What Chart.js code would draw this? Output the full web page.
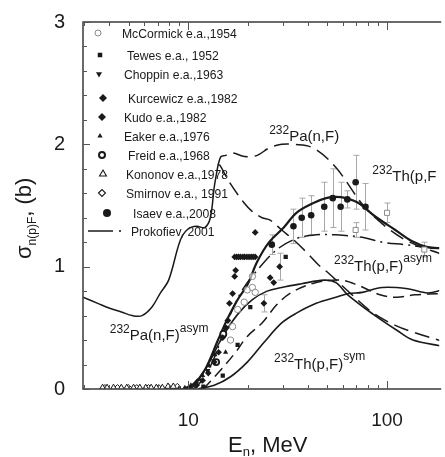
<!DOCTYPE html>
<html><head><meta charset="utf-8">
<script src="https://cdn.jsdelivr.net/npm/chart.js@4.4.0/dist/chart.umd.min.js"></script>
<style>html,body{margin:0;padding:0;background:#fff;overflow:hidden}canvas{display:block}</style>
</head><body>
<canvas id="c" width="445" height="457"></canvas>
<script>
// ---------------- data ----------------
const xTickValues = [3,4,5,6,7,8,9,10,20,30,40,50,60,70,80,90,100];
const xTickLabels = ['10','100'];
const yTickValues = [0,0.2,0.4,0.6,0.8,1,1.2,1.4,1.6,1.8,2,2.2,2.4,2.6,2.8,3];
const yTickLabels = ['0','1','2','3'];

// 232Th(p,F) total (solid)
const thTotE = [9.4,10.6,12.1,14.1,15.8,17.7,19.8,22.2,25.5,30.2,35.0,42.6,49.3,55.3,62.0,71.8,87.2,110,133,160,190];
const thTotY = [0.0,0.04,0.155,0.40,0.58,0.73,0.85,1.04,1.20,1.32,1.44,1.52,1.56,1.57,1.56,1.52,1.41,1.30,1.21,1.16,1.15];
// 232Th(p,F) asym (solid)
const thAsymE = [9.6,10.6,12.56,14.9,17.7,21.0,24.9,29.5,37.1,48.2,55.3,63.4,85.3,112,135,190];
const thAsymY = [0.0,0.02,0.20,0.43,0.61,0.73,0.80,0.83,0.86,0.89,0.87,0.77,0.61,0.48,0.40,0.35];
// 232Th(p,F) sym (solid)
const thSymE = [11.2,13.5,16.3,19.8,24.0,29.5,35.0,44.0,55.3,64.1,75.1,94.5,127,160,190];
const thSymY = [0.0,0.03,0.10,0.22,0.38,0.54,0.62,0.70,0.75,0.78,0.79,0.83,0.82,0.785,0.81];
// 232Pa(n,F): common low-energy part (solid)
const paComE = [2.95,3.5,4.02,4.6,5.22,5.85,6.56,7.2,7.96,9.13,10.0,11.0,12.1,12.9,13.5,14.1];
const paComY = [0.75,0.70,0.66,0.63,0.60,0.60,0.67,0.78,0.89,1.22,1.31,1.33,1.32,1.40,1.65,1.83];
// 232Pa(n,F) total (long dash)
const paTotE = [14.1,14.6,15.4,16.7,19.2,22.2,25.5,29.5,33.8,42.5,55.3,76,98,130,190];
const paTotY = [1.83,1.90,1.91,1.93,1.90,1.91,1.97,2.0,2.0,1.97,1.81,1.50,1.33,1.20,1.10];
// 232Pa(n,F) asym (long dash)
const paAsymE = [14.1,14.4,16.1,19.1,21.0,23.5,25.8,29.5,33.8,39.2,45.5,50.5,65.6,85.3,110,138,190];
const paAsymY = [1.83,1.83,1.69,1.52,1.45,1.40,1.38,1.30,1.22,1.12,1.01,0.95,0.78,0.62,0.52,0.46,0.39];
// 232Pa(n,F) sym (dash)
const paSymE = [11.9,14.1,17.1,19.8,23.5,27.9,33.1,44.0,58.5,71.0,92.2,112,138,190];
const paSymY = [0.0,0.13,0.29,0.43,0.54,0.69,0.79,0.87,0.89,0.85,0.77,0.75,0.77,0.78];
// Prokofiev, 2001 (dash-dot)
const prokE = [10.5,11.2,13.3,15.8,18.7,22.2,27.9,35.0,44.0,55.3,75.0,94.5,123,154,190];
const prokY = [0.0,0.03,0.23,0.56,0.81,0.97,1.14,1.23,1.26,1.26,1.24,1.20,1.18,1.16,1.15];

// experimental points
const mccE = [16.3,16.7,17.7,19.1,19.8,21.0,21.0,21.7];
const mccY = [0.40,0.51,0.65,0.71,0.81,0.83,0.92,0.79];
const grayE = [69.5,100,154];
const grayY = [1.30,1.44,1.14];
const grayErr = [0.06,0.08,0.06];
const tewesE = [11.9,14.9,17.7,20.5,30.9];
const tewesY = [0.02,0.11,0.36,0.67,1.08];
const choppinE = [10.2,10.9,11.6,12.5,13.4];
const choppinY = [0.01,0.03,0.07,0.15,0.23];
const kurcE = [15.8,16.1,16.7,17.1,17.3,21.7,25.8,26.9,24.0,28.8];
const kurcY = [0.56,0.70,0.78,0.92,0.97,1.28,0.91,0.87,0.70,1.00];
const kurcErr = [0,0,0,0,0,0,0,0,0.07,0.11];
const kudoE = [11.0,11.8,12.6,13.5,14.2,14.9,15.5,17.1,17.5,17.9,18.3,18.8,19.2,19.7,20.2,20.7,21.2,21.7];
const kudoY = [0.03,0.07,0.13,0.22,0.30,0.42,0.50,1.08,1.08,1.08,1.08,1.08,1.08,1.08,1.08,1.08,1.08,1.08];
const eakerE = [9.0,9.6,10.3,11.0,11.8,12.7,13.6,15.4];
const eakerY = [0.01,0.01,0.03,0.06,0.11,0.19,0.28,0.30];
const freidE = [13.8,15.0];
const freidY = [0.22,0.45];
const kononovE = [3.7,3.9,4.2,4.6,4.9,5.3,5.7,6.1,6.5,6.9,7.4,7.9,8.4];
const kononovY = [0.01,0.01,0.01,0.01,0.01,0.01,0.01,0.01,0.01,0.01,0.01,0.02,0.02];
const smirnovE = [3.8,4.4,5.0,5.5,6.3,7.1,8.0,8.8];
const smirnovY = [0.01,0.01,0.01,0.01,0.01,0.01,0.01,0.02];
const isaevE = [26.3,33.8,37.2,41.5,48.3,53.3,58.4,63.1,69.5,77.9];
const isaevY = [1.18,1.33,1.40,1.42,1.49,1.56,1.49,1.55,1.69,1.49];
const isaevErr = [0.08,0.14,0.16,0.16,0.20,0.24,0.20,0.07,0.22,0.19];

const legendLabels = ['McCormick e.a.,1954','Tewes e.a., 1952','Choppin e.a.,1963','Kurcewicz e.a.,1982','Kudo e.a.,1982','Eaker e.a.,1976','Freid e.a.,1968','Kononov e.a.,1978','Smirnov e.a., 1991','Isaev e.a.,2008','Prokofiev, 2001'];

// ---------------- styling / layout ----------------
const FONT = '"Liberation Sans", Arial, sans-serif';
const INK = '#1a1a1a';
const GRAY = '#8a8a8a';
const xMin = 2.95, xMax = 183;

const pts = (E, Y) => E.map((x, i) => ({x, y: Y[i]}));
function lineDs(E, Y, w, dash) {
  return {data: pts(E, Y), showLine: true, pointRadius: 0, borderColor: INK, borderWidth: w,
          borderDash: dash || [], tension: 0.35, fill: false, order: 10};
}
function markDs(E, Y, style, r, fillC, strokeC, bw, rot) {
  return {data: pts(E, Y), showLine: false, pointStyle: style, pointRadius: r,
          backgroundColor: fillC, borderColor: strokeC, borderWidth: bw, rotation: rot || 0, order: 1};
}

const markerStyles = [
  {pointStyle:'circle', radius:3, fill:'#fff', stroke:GRAY, bw:1},       // McCormick
  {pointStyle:'rect', radius:3.2, fill:INK, stroke:INK, bw:0},           // Tewes
  {pointStyle:'triangle', radius:3.5, fill:INK, stroke:INK, bw:0, rotation:180}, // Choppin
  {pointStyle:'rectRot', radius:4, fill:INK, stroke:INK, bw:0},          // Kurcewicz
  {pointStyle:'rectRot', radius:4, fill:INK, stroke:INK, bw:0},          // Kudo
  {pointStyle:'triangle', radius:3, fill:INK, stroke:INK, bw:0},         // Eaker
  {pointStyle:'circle', radius:3, fill:'#fff', stroke:INK, bw:2},        // Freid
  {pointStyle:'triangle', radius:4, fill:'#fff', stroke:INK, bw:1.1},    // Kononov
  {pointStyle:'rectRot', radius:3.5, fill:'#fff', stroke:INK, bw:1.1},   // Smirnov
  {pointStyle:'circle', radius:4, fill:INK, stroke:INK, bw:0},           // Isaev
  null
];
const legendLayout = [
  {mx:98,my:33,tx:122},{mx:100,my:55,tx:127},{mx:99,my:74,tx:124},{mx:103,my:98,tx:128},
  {mx:102,my:117,tx:124},{mx:100,my:136,tx:124},{mx:102,my:155,tx:128},{mx:103,my:174,tx:126},
  {mx:102,my:193,tx:126},{mx:107,my:213,tx:133},{mx:100,my:231,tx:131}
];

const datasets = [
  markDs(isaevE, isaevY, 'circle', 3.3, INK, INK, 0),
  markDs(kurcE, kurcY, 'rectRot', 3.4, INK, INK, 0),
  markDs(kudoE, kudoY, 'rectRot', 3.3, INK, INK, 0),
  markDs(tewesE, tewesY, 'rect', 3, INK, INK, 0),
  markDs(choppinE, choppinY, 'triangle', 3.3, INK, INK, 0, 180),
  markDs(eakerE, eakerY, 'triangle', 3, INK, INK, 0),
  markDs(freidE, freidY, 'circle', 3, '#fff', INK, 1.8),
  markDs(mccE, mccY, 'circle', 3.2, 'rgba(255,255,255,0.6)', GRAY, 1),
  markDs(grayE, grayY, 'rect', 3.6, '#fff', GRAY, 1),
  markDs(kononovE, kononovY, 'triangle', 3.6, '#fff', INK, 1),
  markDs(smirnovE, smirnovY, 'rectRot', 3.2, '#fff', INK, 1),
  lineDs(thTotE, thTotY, 2.2),
  lineDs(thAsymE, thAsymY, 1.6),
  lineDs(thSymE, thSymY, 1.6),
  lineDs(paComE, paComY, 1.5),
  lineDs(paTotE, paTotY, 1.5, [15, 7]),
  lineDs(paAsymE, paAsymY, 1.5, [15, 7]),
  lineDs(paSymE, paSymY, 1.5, [11, 6]),
  lineDs(prokE, prokY, 1.5, [16, 5, 2, 5])
];

const curveLabels = [
  {E:25.5, y:2.03, parts:[['232',12,-7],['Pa(n,F)',15,0]]},
  {E:84.3, y:1.70, parts:[['232',12,-7],['Th(p,F',15,0]]},
  {E:54.1, y:0.965, parts:[['232',12,-7],['Th(p,F)',15,0],['asym',12,-9]]},
  {E:4.02, y:0.40, parts:[['232',12,-7],['Pa(n,F)',15,0],['asym',12,-8]]},
  {E:27.0, y:0.163, parts:[['232',12,-7],['Th(p,F)',15,0],['sym',12,-9]]}
];

function rich(ctx, x, y, parts) {
  let cx = x;
  for (const [t, size, dy] of parts) {
    ctx.font = size + 'px ' + FONT;
    ctx.fillText(t, cx, y + dy);
    cx += ctx.measureText(t).width;
  }
  return cx;
}

const decor = {
  id: 'decor',
  beforeDatasetsDraw(chart) {
    const ctx = chart.ctx, xs = chart.scales.x, ys = chart.scales.y;
    ctx.save();
    ctx.strokeStyle = '#a8a8a8';
    ctx.lineWidth = 1;
    const bars = (E, Y, Er) => E.forEach((e, i) => {
      if (!Er[i]) return;
      const x = Math.round(xs.getPixelForValue(e)) + 0.5;
      const y1 = ys.getPixelForValue(Y[i] - Er[i]), y2 = ys.getPixelForValue(Y[i] + Er[i]);
      ctx.beginPath();
      ctx.moveTo(x, y1); ctx.lineTo(x, y2);
      ctx.moveTo(x - 3, y1); ctx.lineTo(x + 3, y1);
      ctx.moveTo(x - 3, y2); ctx.lineTo(x + 3, y2);
      ctx.stroke();
    });
    bars(isaevE, isaevY, isaevErr);
    bars(grayE, grayY, grayErr);
    bars(kurcE, kurcY, kurcErr);
    ctx.restore();
  },
  afterDraw(chart) {
    const ctx = chart.ctx, xs = chart.scales.x, ys = chart.scales.y, a = chart.chartArea;
    ctx.save();
    // frame
    ctx.strokeStyle = '#3a3a3a';
    ctx.lineWidth = 1.5;
    ctx.beginPath();
    ctx.moveTo(a.right + 2, a.top); ctx.lineTo(a.left, a.top); ctx.lineTo(a.left, a.bottom); ctx.lineTo(a.right + 2, a.bottom);
    ctx.stroke();
    ctx.lineWidth = 1;
    ctx.strokeStyle = '#555';
    ctx.beginPath();
    yTickValues.forEach(v => {
      const y = Math.round(ys.getPixelForValue(v)) + 0.5;
      const L = Math.abs(v - Math.round(v)) < 1e-6 ? 7 : 4;
      ctx.moveTo(a.left, y); ctx.lineTo(a.left + L, y);
    });
    xTickValues.forEach(v => {
      const x = Math.round(xs.getPixelForValue(v)) + 0.5;
      const L = (v === 10 || v === 100) ? 8 : 4;
      ctx.moveTo(x, a.bottom); ctx.lineTo(x, a.bottom - L);
      ctx.moveTo(x, a.top); ctx.lineTo(x, a.top + L);
    });
    ctx.stroke();

    // legend
    ctx.textBaseline = 'middle';
    legendLabels.forEach((t, i) => {
      const L = legendLayout[i], st = markerStyles[i];
      if (st) {
        ctx.fillStyle = st.fill; ctx.strokeStyle = st.stroke; ctx.lineWidth = st.bw;
        Chart.helpers.drawPoint(ctx, {pointStyle: st.pointStyle, radius: st.radius, rotation: st.rotation || 0, borderWidth: st.bw}, L.mx, L.my);
      } else {
        ctx.strokeStyle = INK; ctx.lineWidth = 1.5;
        ctx.beginPath(); ctx.moveTo(88, L.my); ctx.lineTo(113, L.my); ctx.stroke();
        ctx.fillStyle = INK; ctx.fillRect(119, L.my - 0.8, 2, 1.6);
      }
      ctx.fillStyle = INK;
      ctx.font = '13.5px ' + FONT;
      ctx.save();
      ctx.translate(L.tx, L.my + 1);
      ctx.scale(0.9, 1);
      ctx.fillText(t, 0, 0);
      ctx.restore();
    });

    // curve labels
    ctx.textBaseline = 'alphabetic';
    ctx.fillStyle = INK;
    curveLabels.forEach(c => rich(ctx, xs.getPixelForValue(c.E), ys.getPixelForValue(c.y), c.parts));

    // axis titles
    rich(ctx, 228, 452, [['E',22,0],['n',13,4],[',',22,0],[' MeV',22,0]]);
    ctx.translate(31, 259);
    ctx.rotate(-Math.PI / 2);
    rich(ctx, 0, 0, [['σ',22,0],['n(p)F',12,5],[', (b)',22,0]]);
    ctx.restore();
  }
};

new Chart(document.getElementById('c'), {
  type: 'scatter',
  data: {datasets},
  options: {
    responsive: false, animation: false, devicePixelRatio: 1,
    layout: {padding: {top: 22, left: 0, right: 0, bottom: 0}},
    plugins: {legend: {display: false}, tooltip: {enabled: false}},
    scales: {
      x: {
        type: 'logarithmic', min: xMin, max: xMax,
        grid: {display: false}, border: {display: false},
        afterBuildTicks: s => { s.ticks = xTickValues.map(v => ({value: v})); },
        ticks: {autoSkip: false, maxRotation: 0, padding: 12, color: INK,
                font: {size: 19, family: FONT},
                callback: v => xTickLabels.includes(String(v)) ? String(v) : ''},
        afterFit: s => { s.height = 68; }
      },
      y: {
        min: 0, max: 3,
        grid: {display: false}, border: {display: false},
        afterBuildTicks: s => { s.ticks = yTickValues.map(v => ({value: v})); },
        ticks: {autoSkip: false, padding: 10, color: INK, font: {size: 20, family: FONT},
                callback: v => { const r = Math.round(v); return Math.abs(v - r) < 1e-6 && yTickLabels.includes(String(r)) ? String(r) : ''; }},
        afterFit: s => { s.width = 83; }
      }
    }
  },
  plugins: [decor]
});
</script>
</body></html>
